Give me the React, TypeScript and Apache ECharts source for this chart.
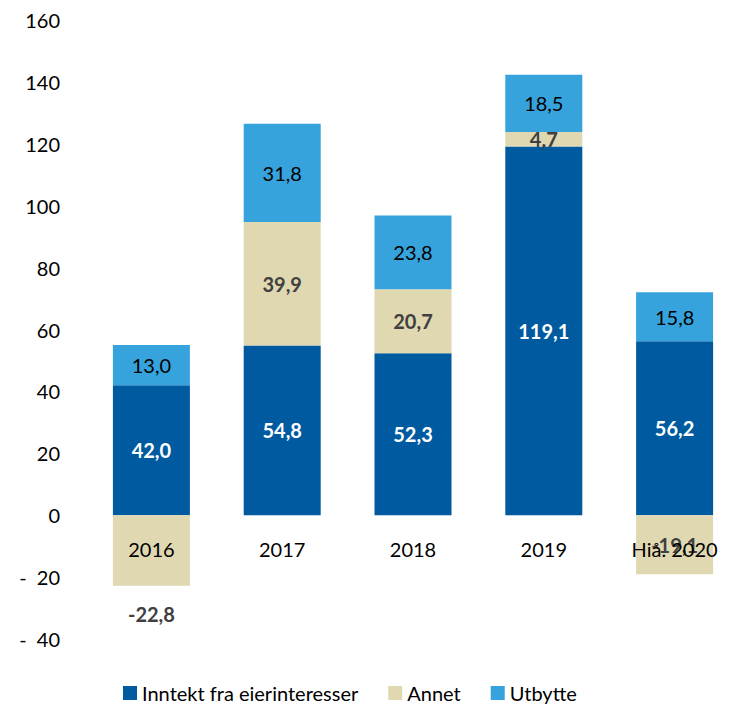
import React, { useEffect, useRef } from "react";
import * as echarts from "echarts";

const categories = ["2016", "2017", "2018", "2019", "Hiå. 2020"];
const inntekt = [42.0, 54.8, 52.3, 119.1, 56.2];
const annet = [-22.8, 39.9, 20.7, 4.7, -19.1];
const utbytte = [13.0, 31.8, 23.8, 18.5, 15.8];
const seriesNames = ["Inntekt fra eierinteresser", "Annet", "Utbytte"];
const colors = ["#005AA0", "#E0D8B0", "#36A3DC"];

const FONT = "Lato";
const fmt = (v: number) => v.toFixed(1).replace(".", ",");

export default function App() {
  const ref = useRef<HTMLDivElement>(null);
  useEffect(() => {
    if (!ref.current) return;
    const chart = echarts.init(ref.current, null, { renderer: "svg" });
    chart.setOption({
      animation: false,
      textStyle: { fontFamily: FONT },
      grid: { left: 86, width: 668, top: 20, height: 619 },
      legend: {
        top: 677,
        left: 118,
        itemWidth: 14,
        itemHeight: 14,
        itemGap: 30,
        icon: "rect",
        textStyle: { fontSize: 20, color: "#000", fontFamily: FONT, lineHeight: 22 },
        data: seriesNames,
      },
      xAxis: {
        type: "category",
        data: categories,
        position: "bottom",
        offset: -124,
        axisLine: { show: false, onZero: false },
        axisTick: { show: false },
        axisLabel: { fontSize: 20, color: "#000", margin: 24, fontFamily: FONT },
        z: 10,
      },
      yAxis: {
        type: "value",
        min: -40,
        max: 160,
        interval: 20,
        splitLine: { show: false },
        axisLine: { show: false },
        axisTick: { show: false },
        axisLabel: {
          fontSize: 20,
          color: "#000",
          margin: 26,
          fontFamily: FONT,
          formatter: (v: number) => (v < 0 ? "-  " + Math.abs(v) : String(v)),
        },
      },
      series: [
        {
          name: seriesNames[0],
          type: "bar",
          stack: "s",
          barWidth: 77,
          itemStyle: { color: colors[0] },
          data: inntekt,
          label: {
            show: true,
            position: "inside",
            color: "#fff",
            fontWeight: "bold",
            fontSize: 20,
            fontFamily: FONT,
            formatter: (p: any) => fmt(p.value),
          },
        },
        {
          name: seriesNames[1],
          type: "bar",
          stack: "s",
          barWidth: 77,
          itemStyle: { color: colors[1] },
          data: annet.map((v, i) =>
            i === 0
              ? { value: v, label: { position: "bottom", distance: 18 } }
              : v
          ),
          label: {
            show: true,
            position: "inside",
            color: "#404040",
            fontWeight: "bold",
            fontSize: 20,
            fontFamily: FONT,
            formatter: (p: any) => fmt(p.value),
          },
        },
        {
          name: seriesNames[2],
          type: "bar",
          stack: "s",
          barWidth: 77,
          itemStyle: { color: colors[2] },
          data: utbytte,
          label: {
            show: true,
            position: "inside",
            color: "#000",
            fontSize: 20,
            fontFamily: FONT,
            formatter: (p: any) => fmt(p.value),
          },
        },
      ],
    });
    return () => chart.dispose();
  }, []);
  return (
    <div
      ref={ref}
      style={{ position: "fixed", left: 0, top: 0, width: 740, height: 705, background: "#fff" }}
    />
  );
}
